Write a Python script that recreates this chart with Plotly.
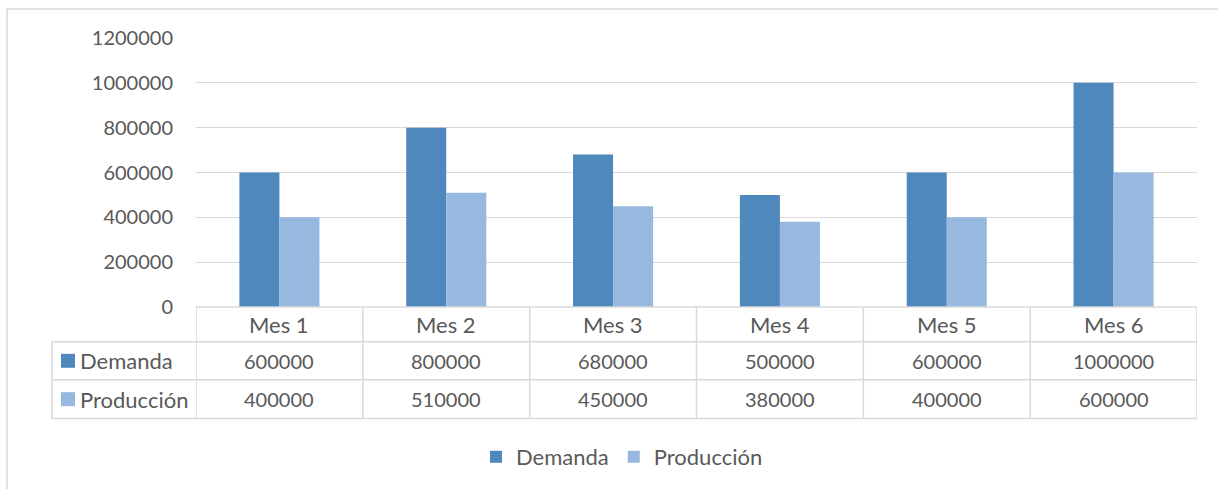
import plotly.graph_objects as go

# Monthly demand vs. production
meses = ["Mes 1", "Mes 2", "Mes 3", "Mes 4", "Mes 5", "Mes 6"]
demanda = [600000, 800000, 680000, 500000, 600000, 1000000]
produccion = [400000, 510000, 450000, 380000, 400000, 600000]
series_names = ["Demanda", "Producción"]
y_ticks = [0, 200000, 400000, 600000, 800000, 1000000, 1200000]

W, H = 1218, 489
L, R, T, B = 196, 21, 38, 181
PW, PH = W - L - R, H - T - B

C_DEM = "#4F88BD"
C_PRO = "#97B9E0"
TXT = "#595959"
GRID = "#D9D9D9"
FONT = "Lato"
NUM_SIZE = 20
WORD_SIZE = 22


def px_x(p):
    return (p - L) / PW


def px_y(p):
    return (H - B - p) / PH


fig = go.Figure()
fig.add_trace(go.Bar(x=meses, y=demanda, name=series_names[0], marker_color=C_DEM,
                     marker_line_width=0))
fig.add_trace(go.Bar(x=meses, y=produccion, name=series_names[1], marker_color=C_PRO,
                     marker_line_width=0))

shapes = []
annotations = []

# data table rows (pixel bands)
row_hdr = (308, 343)
row_dem = (343, 381)
row_pro = (381, 420)
left_x = 52
n = len(meses)

line = dict(color=GRID, width=1.5)
# horizontal table lines
for yy, x0 in [(row_hdr[0], px_x(L)), (row_hdr[1], px_x(left_x)),
               (row_dem[1], px_x(left_x)), (row_pro[1], px_x(left_x))]:
    shapes.append(dict(type="line", xref="paper", yref="paper", x0=x0, x1=1,
                       y0=px_y(yy), y1=px_y(yy), line=line))
# vertical lines at category boundaries
for i in range(n + 1):
    shapes.append(dict(type="line", xref="x", yref="paper", x0=i - 0.5, x1=i - 0.5,
                       y0=px_y(row_hdr[0]), y1=px_y(row_pro[1]), line=line))
# left edge of series label column
shapes.append(dict(type="line", xref="paper", yref="paper", x0=px_x(left_x), x1=px_x(left_x),
                   y0=px_y(row_hdr[1]), y1=px_y(row_pro[1]), line=line))

# header labels
for i, m in enumerate(meses):
    annotations.append(dict(x=i, y=px_y(sum(row_hdr) / 2), xref="x", yref="paper",
                            text=m, showarrow=False,
                            font=dict(size=WORD_SIZE, color=TXT, family=FONT),
                            xanchor="center", yanchor="middle"))

# value rows
for row, vals, name, col in [(row_dem, demanda, series_names[0], C_DEM),
                             (row_pro, produccion, series_names[1], C_PRO)]:
    yc = (row[0] + row[1]) / 2
    for i, v in enumerate(vals):
        annotations.append(dict(x=i, y=px_y(yc), xref="x", yref="paper",
                                text=str(v), showarrow=False,
                                font=dict(size=NUM_SIZE, color=TXT, family=FONT),
                                xanchor="center", yanchor="middle"))
    shapes.append(dict(type="rect", xref="paper", yref="paper",
                       x0=px_x(61), x1=px_x(75), y0=px_y(yc - 7), y1=px_y(yc + 7),
                       fillcolor=col, line_width=0))
    annotations.append(dict(x=px_x(78), y=px_y(yc), xref="paper", yref="paper",
                            text=name, showarrow=False,
                            font=dict(size=WORD_SIZE, color=TXT, family=FONT),
                            xanchor="left", yanchor="middle"))

# chart frame
shapes.append(dict(type="rect", xref="paper", yref="paper",
                   x0=px_x(7), x1=px_x(W + 5), y0=px_y(9), y1=px_y(H + 5),
                   line=dict(color=GRID, width=1.5), fillcolor="rgba(0,0,0,0)"))

fig.update_layout(
    width=W, height=H,
    margin=dict(l=L, r=R, t=T, b=B, pad=0),
    paper_bgcolor="white", plot_bgcolor="white",
    barmode="group", bargap=0.52, bargroupgap=0,
    font=dict(family=FONT, color=TXT, size=NUM_SIZE),
    showlegend=True,
    legend=dict(orientation="h", x=px_x(476), xanchor="left", y=px_y(457), yanchor="middle",
                font=dict(size=WORD_SIZE, color=TXT, family=FONT), itemsizing="constant",
                bgcolor="rgba(0,0,0,0)", itemwidth=30),
    shapes=shapes,
    annotations=annotations,
)
fig.update_xaxes(showticklabels=False, showgrid=False, zeroline=False, showline=False,
                 ticks="", range=[-0.5, n - 0.5])
fig.update_yaxes(range=[0, 1200000], tickvals=y_ticks, ticktext=[str(v) for v in y_ticks],
                 showgrid=True, gridcolor=GRID, gridwidth=1, zeroline=False, showline=False,
                 ticks="", ticklabelstandoff=22,
                 tickfont=dict(size=NUM_SIZE, color=TXT, family=FONT))

fig.write_html("out.html")
